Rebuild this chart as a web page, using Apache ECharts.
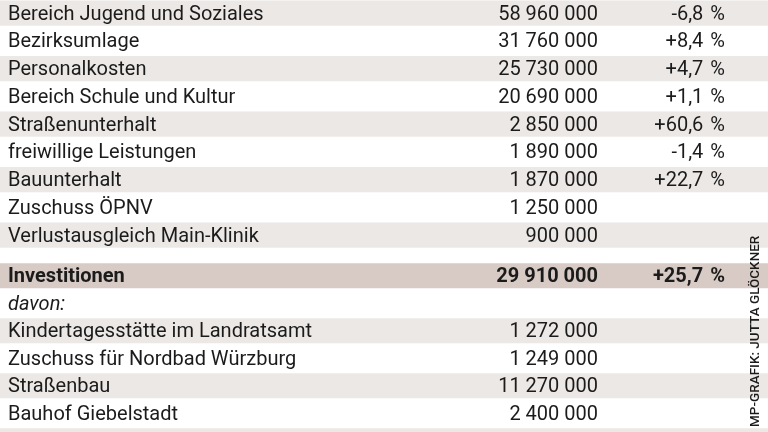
<!DOCTYPE html>
<html>
<head>
<meta charset="utf-8">
<script src="https://cdn.jsdelivr.net/npm/echarts@6/dist/echarts.min.js"></script>
<style>
html,body{margin:0;padding:0;background:#fff;}
#chart{width:768px;height:432px;}
</style>
</head>
<body>
<div id="chart"></div>
<script>
// ---- Data ----
const expenseLabels = [
  'Bereich Jugend und Soziales',
  'Bezirksumlage',
  'Personalkosten',
  'Bereich Schule und Kultur',
  'Straßenunterhalt',
  'freiwillige Leistungen',
  'Bauunterhalt',
  'Zuschuss ÖPNV',
  'Verlustausgleich Main-Klinik'
];
const expenseAmounts = [58960000, 31760000, 25730000, 20690000, 2850000, 1890000, 1870000, 1250000, 900000];
const expenseChanges = [-6.8, 8.4, 4.7, 1.1, 60.6, -1.4, 22.7, null, null];

const investLabels = [
  'Investitionen',
  'davon:',
  'Kindertagesstätte im Landratsamt',
  'Zuschuss für Nordbad Würzburg',
  'Straßenbau',
  'Bauhof Giebelstadt',
  ''
];
const investAmounts = [29910000, null, 1272000, 1249000, 11270000, 2400000, null];
const investChanges = [25.7, null, null, null, null, null, null];

const creditText = 'MP-GRAFIK: JUTTA GLÖCKNER';

// ---- Formatting helpers ----
function fmtAmount(n) {
  if (n === null || n === undefined) return '';
  return String(n).replace(/\B(?=(\d{3})+(?!\d))/g, ' ');
}
function fmtChange(v) {
  if (v === null || v === undefined) return '';
  return (v > 0 ? '+' : '') + v.toFixed(1).replace('.', ',') + ' \u200A%';
}

// ---- Style ----
const FONT_FAMILY = 'Roboto, "Noto Sans", sans-serif';
const FONT_SIZE = 20;
const TEXT_COLOR = '#1b1b1b';
const BAND_LIGHT = '#ECE8E6';
const BAND_DARK = '#D8CBC5';
const X_MAX = 768;
const COL_LABEL = 8;
const COL_AMOUNT = 598;
const COL_CHANGE = 725;
const BAND_HALF = 0.455;
const TEXT_DY = 1.5;

function buildRows(labels, amounts, changes, boldRows, italicRows) {
  return labels.map(function (l, i) {
    return {
      label: l,
      amount: fmtAmount(amounts[i]),
      change: fmtChange(changes[i]),
      bold: boldRows.indexOf(i) >= 0,
      italic: italicRows.indexOf(i) >= 0
    };
  });
}

const rows1 = buildRows(expenseLabels, expenseAmounts, expenseChanges, [], []);
const rows2 = buildRows(investLabels, investAmounts, investChanges, [0], [1]);

const bandColors1 = expenseLabels.map(function (_, i) { return i % 2 === 0 ? BAND_LIGHT : null; });
const bandColors2 = investLabels.map(function (_, i) { return i === 0 ? BAND_DARK : (i % 2 === 0 ? BAND_LIGHT : null); });

function bandRenderer(colors) {
  return function (params, api) {
    const i = api.value(1);
    const c = colors[i];
    if (!c) return null;
    const p0 = api.coord([0, i - BAND_HALF]);
    const p1 = api.coord([api.value(0), i + BAND_HALF]);
    return {
      type: 'rect',
      shape: {x: p0[0], y: Math.min(p0[1], p1[1]), width: p1[0] - p0[0], height: Math.abs(p1[1] - p0[1])},
      style: {fill: c}
    };
  };
}

function textRenderer(rows) {
  return function (params, api) {
    const idx = api.value(1);
    const r = rows[idx];
    const y = api.coord([0, idx])[1] + TEXT_DY;
    const weight = r.bold ? 'bold' : 'normal';
    const fstyle = r.italic ? 'italic' : 'normal';
    const xl = api.coord([COL_LABEL, idx])[0];
    const xa = api.coord([COL_AMOUNT, idx])[0];
    const xc = api.coord([COL_CHANGE, idx])[0];
    function t(x, text, align) {
      return {
        type: 'text', x: x, y: y,
        style: {
          text: text, fill: TEXT_COLOR,
          fontFamily: FONT_FAMILY, fontSize: FONT_SIZE, fontWeight: weight, fontStyle: fstyle,
          align: align, verticalAlign: 'middle'
        }
      };
    }
    return {
      type: 'group',
      children: [t(xl, r.label, 'left'), t(xa, r.amount, 'right'), t(xc, r.change, 'right')]
    };
  };
}

const chart = echarts.init(document.getElementById('chart'), null, {renderer: 'canvas'});
chart.setOption({
  animation: false,
  backgroundColor: '#ffffff',
  grid: [
    {left: 0, right: 0, top: 0, height: 249},
    {left: 0, right: 0, top: 262, bottom: 0}
  ],
  xAxis: [
    {type: 'value', gridIndex: 0, min: 0, max: X_MAX, show: false},
    {type: 'value', gridIndex: 1, min: 0, max: X_MAX, show: false}
  ],
  yAxis: [
    {type: 'value', gridIndex: 0, inverse: true, min: -0.47, max: 8.5, show: false},
    {type: 'value', gridIndex: 1, inverse: true, min: -0.5, max: 5.682, show: false}
  ],
  series: [
    {
      type: 'custom', xAxisIndex: 0, yAxisIndex: 0, silent: true, clip: true,
      renderItem: bandRenderer(bandColors1),
      data: expenseLabels.map(function (_, i) { return [X_MAX, i]; }),
      encode: {x: 0, y: 1}
    },
    {
      type: 'custom', xAxisIndex: 1, yAxisIndex: 1, silent: true, clip: true,
      renderItem: bandRenderer(bandColors2),
      data: investLabels.map(function (_, i) { return [X_MAX, i]; }),
      encode: {x: 0, y: 1}
    },
    {
      type: 'custom', xAxisIndex: 0, yAxisIndex: 0, silent: true,
      renderItem: textRenderer(rows1),
      data: rows1.map(function (_, i) { return [0, i]; }),
      encode: {x: 0, y: 1}
    },
    {
      type: 'custom', xAxisIndex: 1, yAxisIndex: 1, silent: true,
      renderItem: textRenderer(rows2),
      data: rows2.map(function (_, i) { return [0, i]; }),
      encode: {x: 0, y: 1}
    }
  ],
  graphic: [
    {
      type: 'text', x: 756, y: 427, rotation: Math.PI / 2, silent: true, z: 100,
      style: {text: creditText, fontFamily: FONT_FAMILY, fontSize: 13.5, fontWeight: 500, fill: TEXT_COLOR, align: 'left', verticalAlign: 'middle'}
    }
  ]
});
</script>
</body>
</html>
